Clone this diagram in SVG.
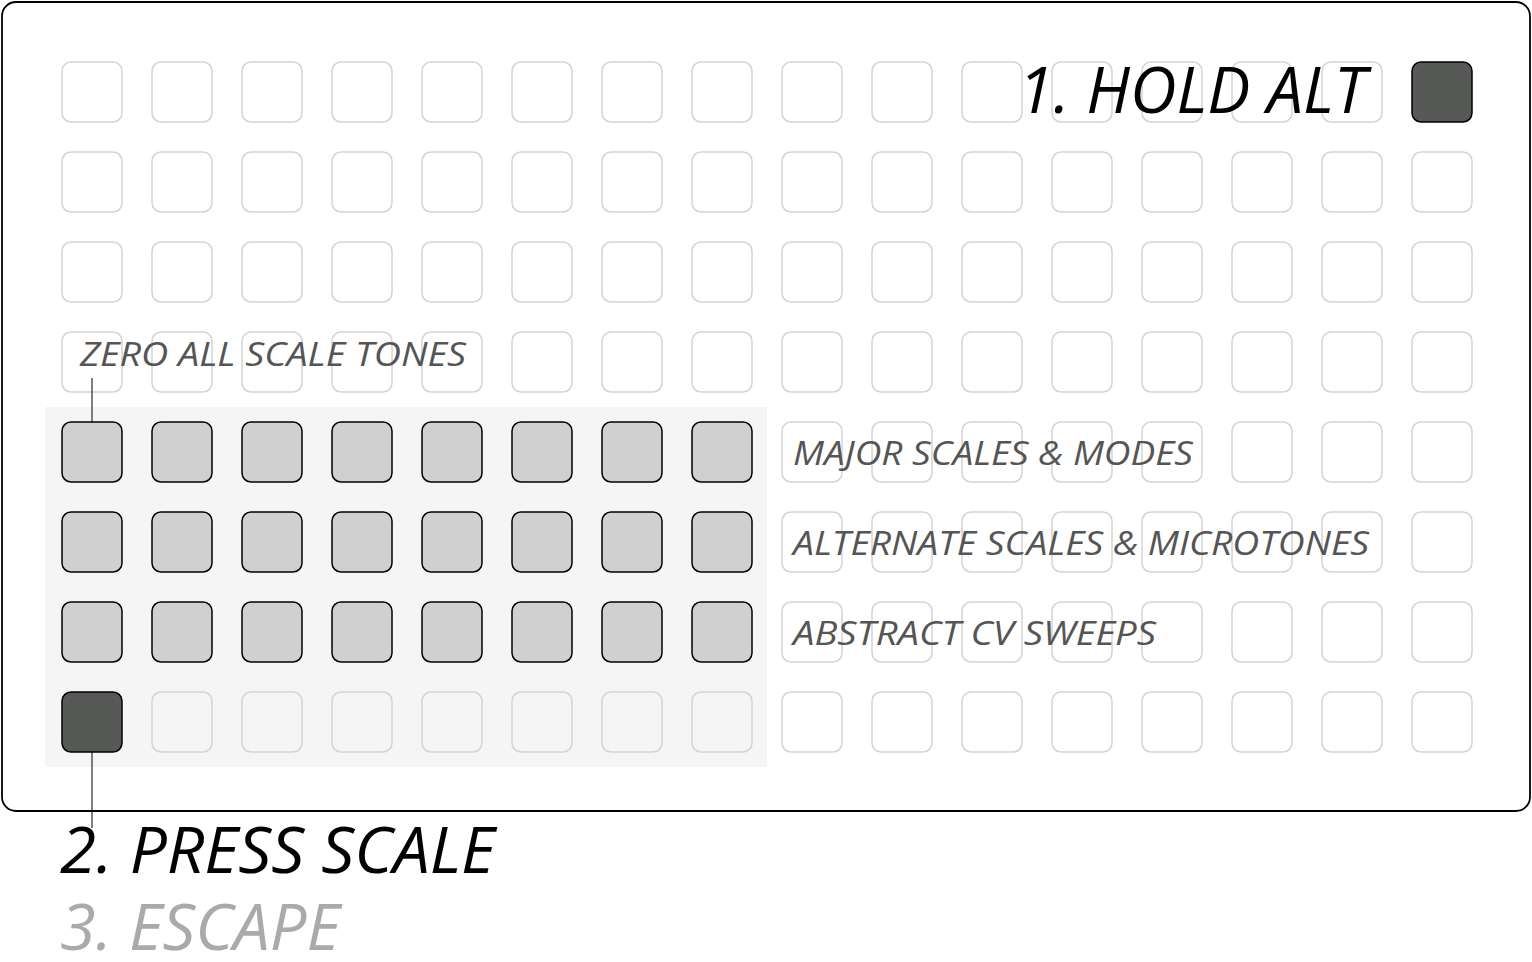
<svg xmlns="http://www.w3.org/2000/svg" width="1532" height="962" viewBox="0 0 1532 962">
<defs>
<style>
.cell{fill:none;stroke:#d3d3d3;stroke-width:1.5}
.on{fill:#d0d0d0;stroke:#000;stroke-width:1.5}
.dark{fill:#575957;stroke:#000;stroke-width:1.5}
.lbl{font-family:"Open Sans","Liberation Sans",sans-serif;font-style:italic;font-size:33px;fill:#555555}
.big{font-family:"Open Sans","Liberation Sans",sans-serif;font-style:italic;font-size:64px}
</style>
<rect id="c" width="60" height="60" rx="9"/>
</defs>
<rect x="2" y="2" width="1528" height="809" rx="14" fill="#fff" stroke="#000" stroke-width="1.8"/>
<rect x="45" y="407" width="722" height="360" fill="#f5f5f5"/>
<g id="grid">
<g id="row0"><use href="#c" class="cell" x="62" y="62"/><use href="#c" class="cell" x="152" y="62"/><use href="#c" class="cell" x="242" y="62"/><use href="#c" class="cell" x="332" y="62"/><use href="#c" class="cell" x="422" y="62"/><use href="#c" class="cell" x="512" y="62"/><use href="#c" class="cell" x="602" y="62"/><use href="#c" class="cell" x="692" y="62"/><use href="#c" class="cell" x="782" y="62"/><use href="#c" class="cell" x="872" y="62"/><use href="#c" class="cell" x="962" y="62"/><use href="#c" class="cell" x="1052" y="62"/><use href="#c" class="cell" x="1142" y="62"/><use href="#c" class="cell" x="1232" y="62"/><use href="#c" class="cell" x="1322" y="62"/></g>
<g id="row1"><use href="#c" class="cell" x="62" y="152"/><use href="#c" class="cell" x="152" y="152"/><use href="#c" class="cell" x="242" y="152"/><use href="#c" class="cell" x="332" y="152"/><use href="#c" class="cell" x="422" y="152"/><use href="#c" class="cell" x="512" y="152"/><use href="#c" class="cell" x="602" y="152"/><use href="#c" class="cell" x="692" y="152"/><use href="#c" class="cell" x="782" y="152"/><use href="#c" class="cell" x="872" y="152"/><use href="#c" class="cell" x="962" y="152"/><use href="#c" class="cell" x="1052" y="152"/><use href="#c" class="cell" x="1142" y="152"/><use href="#c" class="cell" x="1232" y="152"/><use href="#c" class="cell" x="1322" y="152"/><use href="#c" class="cell" x="1412" y="152"/></g>
<g id="row2"><use href="#c" class="cell" x="62" y="242"/><use href="#c" class="cell" x="152" y="242"/><use href="#c" class="cell" x="242" y="242"/><use href="#c" class="cell" x="332" y="242"/><use href="#c" class="cell" x="422" y="242"/><use href="#c" class="cell" x="512" y="242"/><use href="#c" class="cell" x="602" y="242"/><use href="#c" class="cell" x="692" y="242"/><use href="#c" class="cell" x="782" y="242"/><use href="#c" class="cell" x="872" y="242"/><use href="#c" class="cell" x="962" y="242"/><use href="#c" class="cell" x="1052" y="242"/><use href="#c" class="cell" x="1142" y="242"/><use href="#c" class="cell" x="1232" y="242"/><use href="#c" class="cell" x="1322" y="242"/><use href="#c" class="cell" x="1412" y="242"/></g>
<g id="row3"><use href="#c" class="cell" x="62" y="332"/><use href="#c" class="cell" x="152" y="332"/><use href="#c" class="cell" x="242" y="332"/><use href="#c" class="cell" x="332" y="332"/><use href="#c" class="cell" x="422" y="332"/><use href="#c" class="cell" x="512" y="332"/><use href="#c" class="cell" x="602" y="332"/><use href="#c" class="cell" x="692" y="332"/><use href="#c" class="cell" x="782" y="332"/><use href="#c" class="cell" x="872" y="332"/><use href="#c" class="cell" x="962" y="332"/><use href="#c" class="cell" x="1052" y="332"/><use href="#c" class="cell" x="1142" y="332"/><use href="#c" class="cell" x="1232" y="332"/><use href="#c" class="cell" x="1322" y="332"/><use href="#c" class="cell" x="1412" y="332"/></g>
<g id="row4"><use href="#c" class="on" x="62" y="422"/><use href="#c" class="on" x="152" y="422"/><use href="#c" class="on" x="242" y="422"/><use href="#c" class="on" x="332" y="422"/><use href="#c" class="on" x="422" y="422"/><use href="#c" class="on" x="512" y="422"/><use href="#c" class="on" x="602" y="422"/><use href="#c" class="on" x="692" y="422"/><use href="#c" class="cell" x="782" y="422"/><use href="#c" class="cell" x="872" y="422"/><use href="#c" class="cell" x="962" y="422"/><use href="#c" class="cell" x="1052" y="422"/><use href="#c" class="cell" x="1142" y="422"/><use href="#c" class="cell" x="1232" y="422"/><use href="#c" class="cell" x="1322" y="422"/><use href="#c" class="cell" x="1412" y="422"/></g>
<g id="row5"><use href="#c" class="on" x="62" y="512"/><use href="#c" class="on" x="152" y="512"/><use href="#c" class="on" x="242" y="512"/><use href="#c" class="on" x="332" y="512"/><use href="#c" class="on" x="422" y="512"/><use href="#c" class="on" x="512" y="512"/><use href="#c" class="on" x="602" y="512"/><use href="#c" class="on" x="692" y="512"/><use href="#c" class="cell" x="782" y="512"/><use href="#c" class="cell" x="872" y="512"/><use href="#c" class="cell" x="962" y="512"/><use href="#c" class="cell" x="1052" y="512"/><use href="#c" class="cell" x="1142" y="512"/><use href="#c" class="cell" x="1232" y="512"/><use href="#c" class="cell" x="1322" y="512"/><use href="#c" class="cell" x="1412" y="512"/></g>
<g id="row6"><use href="#c" class="on" x="62" y="602"/><use href="#c" class="on" x="152" y="602"/><use href="#c" class="on" x="242" y="602"/><use href="#c" class="on" x="332" y="602"/><use href="#c" class="on" x="422" y="602"/><use href="#c" class="on" x="512" y="602"/><use href="#c" class="on" x="602" y="602"/><use href="#c" class="on" x="692" y="602"/><use href="#c" class="cell" x="782" y="602"/><use href="#c" class="cell" x="872" y="602"/><use href="#c" class="cell" x="962" y="602"/><use href="#c" class="cell" x="1052" y="602"/><use href="#c" class="cell" x="1142" y="602"/><use href="#c" class="cell" x="1232" y="602"/><use href="#c" class="cell" x="1322" y="602"/><use href="#c" class="cell" x="1412" y="602"/></g>
<g id="row7"><use href="#c" class="cell" x="152" y="692"/><use href="#c" class="cell" x="242" y="692"/><use href="#c" class="cell" x="332" y="692"/><use href="#c" class="cell" x="422" y="692"/><use href="#c" class="cell" x="512" y="692"/><use href="#c" class="cell" x="602" y="692"/><use href="#c" class="cell" x="692" y="692"/><use href="#c" class="cell" x="782" y="692"/><use href="#c" class="cell" x="872" y="692"/><use href="#c" class="cell" x="962" y="692"/><use href="#c" class="cell" x="1052" y="692"/><use href="#c" class="cell" x="1142" y="692"/><use href="#c" class="cell" x="1232" y="692"/><use href="#c" class="cell" x="1322" y="692"/><use href="#c" class="cell" x="1412" y="692"/></g>
</g>
<g id="alt-key"><use href="#c" class="dark" x="1412" y="62"/></g>
<g id="scale-key"><use href="#c" class="dark" x="62" y="692"/></g>
<g id="connectors" stroke="#000" stroke-width="1">
<line x1="92" y1="378" x2="92" y2="422"/>
<line x1="92" y1="752" x2="92" y2="828"/>
</g>
<g id="labels">
<text class="lbl" x="80" y="366" textLength="386" lengthAdjust="spacingAndGlyphs">ZERO ALL SCALE TONES</text>
<text class="lbl" x="793" y="465" textLength="400" lengthAdjust="spacingAndGlyphs">MAJOR SCALES &amp; MODES</text>
<text class="lbl" x="793" y="555" textLength="576" lengthAdjust="spacingAndGlyphs">ALTERNATE SCALES &amp; MICROTONES</text>
<text class="lbl" x="793" y="645" textLength="363" lengthAdjust="spacingAndGlyphs">ABSTRACT CV SWEEPS</text>
<text class="big" x="1018" y="113" fill="#000" textLength="348" lengthAdjust="spacingAndGlyphs">1. HOLD ALT</text>
<text class="big" x="60" y="873" fill="#000" textLength="435" lengthAdjust="spacingAndGlyphs">2. PRESS SCALE</text>
<text class="big" x="60" y="950" fill="#aaaaaa" font-size="62" textLength="280" lengthAdjust="spacingAndGlyphs">3. ESCAPE</text>
</g>
</svg>
